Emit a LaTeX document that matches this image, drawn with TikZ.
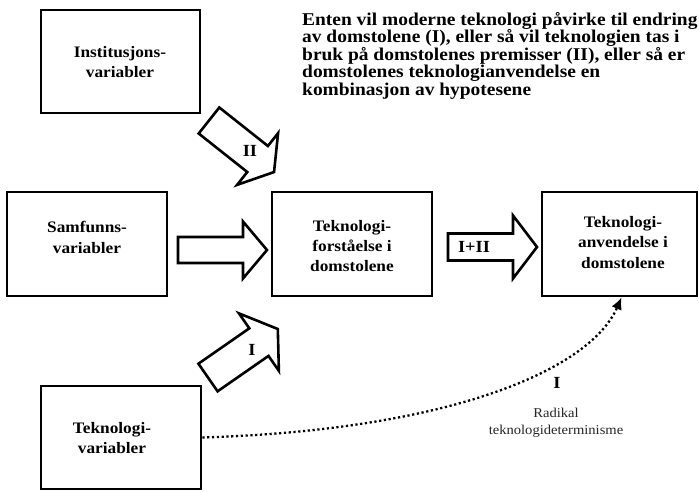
\documentclass[tikz,border=0pt]{standalone}
\usepackage{fontspec}
\usetikzlibrary{arrows.meta,calc}
\newfontfamily\garfont[FakeStretch=1.08]{Liberation Serif}
\tikzset{
  box/.style={draw, line width=2.8pt, rectangle, inner sep=0pt},
  boxtext/.style={font=\garfont\bfseries\fontsize{16}{20.3}\selectfont, align=center, inner sep=0pt},
  blk/.style={draw, line width=2.6pt, line join=miter, fill=white},
  arrlabel/.style={font=\garfont\bfseries\fontsize{17}{19}\selectfont, inner sep=0pt},
  dotcurve/.style={line width=2.3pt, dash pattern=on 2.2pt off 2.6pt, -{Latex[length=12pt,width=11pt]}},
}
\newcommand{\blockarrow}[7]{%
  \begin{scope}[shift={(#1,#2)},rotate=#3]
    \draw[blk] (0,-#6) -- (#4,-#6) -- (#4,-#7) -- ({#4+#5},0) -- (#4,#7) -- (#4,#6) -- (0,#6) -- cycle;
  \end{scope}}
\begin{document}
\begin{tikzpicture}[x=1pt,y=-1pt]
\useasboundingbox[fill=white] (0,0) rectangle (699,491);
% boxes
\node[box, minimum width=159pt, minimum height=103pt] (inst) at (120.5,61.5) {};
\node[box, minimum width=160pt, minimum height=104pt] (samf) at (87,244) {};
\node[box, minimum width=160pt, minimum height=104pt] (forst) at (352,244) {};
\node[box, minimum width=155pt, minimum height=104pt] (anvend) at (619.5,244) {};
\node[box, minimum width=160pt, minimum height=103pt] (tekvar) at (121,437.5) {};
% box texts
\node[boxtext] at (120,62) {Institusjons-\\variabler};
\node[boxtext] at (87,237.5) {Samfunns-\\variabler};
\node[boxtext] at (352,246) {Teknologi-\\forståelse i\\domstolene};
\node[boxtext] at (623,242.5) {Teknologi-\\anvendelse i\\domstolene};
\node[boxtext] at (112,438) {Teknologi-\\variabler};
% hypothesis text
\node[anchor=north west, align=left, inner sep=0pt, font=\garfont\bfseries\fontsize{18}{17.5}\selectfont] (hyp) at (302,12) {Enten vil moderne teknologi påvirke til endring\\av domstolene (I), eller så vil teknologien tas i\\bruk på domstolenes premisser (II), eller så er\\domstolenes teknologianvendelse en\\kombinasjon av hypotesene};
% block arrows
\blockarrow{178}{250}{0}{65}{24}{13}{28.5}
\blockarrow{448}{247}{0}{65}{24}{13.5}{31.5}
\blockarrow{209}{120.5}{-38.4}{62}{21}{16.6}{33}
\blockarrow{208}{377.5}{34.8}{62}{23}{16.8}{35}
\node[arrlabel] (lII) at (250,151) {II};
\node[arrlabel] (lI) at (252,350) {I};
\node[arrlabel] (lIII) at (474,247) {I+II};
% dotted curve
\draw[dotcurve] (tekvar.east) .. controls (450,430) and (590,370) .. ([xshift=2pt]anvend.south);
\node[arrlabel] (lIc) at (557,383) {I};
\node[font=\garfont\fontsize{13.5}{17}\selectfont, text=black!85, align=center, inner sep=0pt] (rad) at (556,423) {Radikal\\teknologideterminisme};
\end{tikzpicture}
\end{document}
